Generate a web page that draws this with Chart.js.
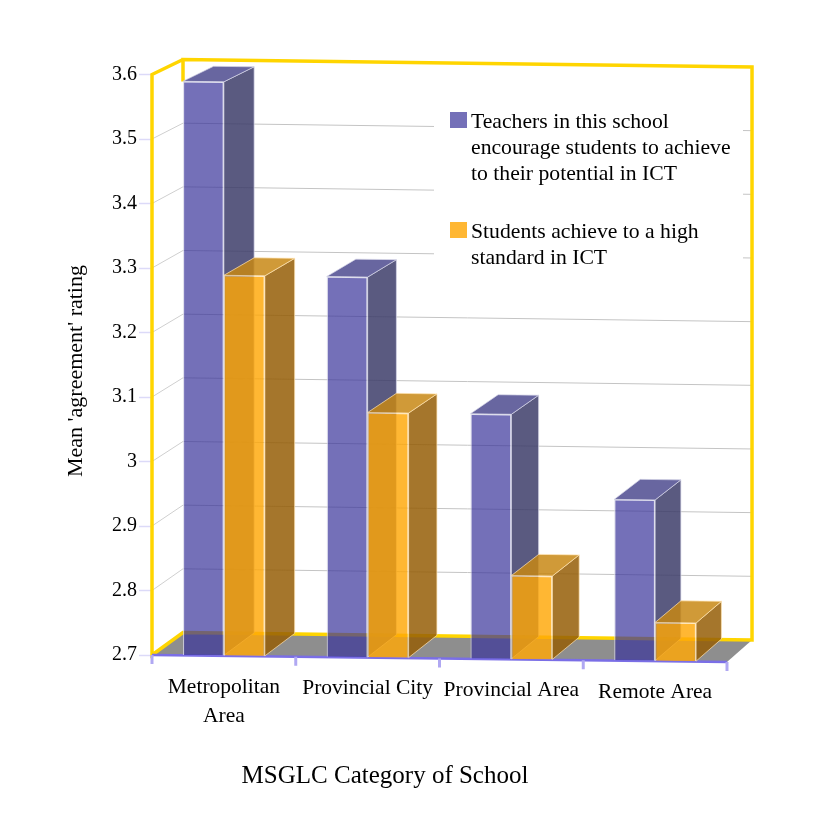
<!DOCTYPE html>
<html>
<head>
<meta charset="utf-8">
<title>Mean agreement rating by MSGLC category</title>
<script src="https://cdn.jsdelivr.net/npm/chart.js@4"></script>
<style>
html, body { margin: 0; padding: 0; background: #fff; }
canvas { display: block; }
</style>
</head>
<body>
<canvas id="rating-chart" width="830" height="821"></canvas>
<script>
// Chart data
const categories = [['Metropolitan', 'Area'], ['Provincial City'], ['Provincial Area'], ['Remote Area']];
const teacherRatings = [3.59, 3.29, 3.08, 2.95];
const studentRatings = [3.29, 3.08, 2.83, 2.76];
const ratingTicks = [2.7, 2.8, 2.9, 3, 3.1, 3.2, 3.3, 3.4, 3.5, 3.6];
const teacherLegend = ['Teachers in this school', 'encourage students to achieve', 'to their potential in ICT'];
const studentLegend = ['Students achieve to a high', 'standard in ICT'];

const SERIF = '"Liberation Serif", serif';
const TILT = 0.0122;
const YELLOW = '#ffd500';
const LILAC = '#b0a8f2';

// Everything on the front plane slopes down slightly towards the right
function tiltY(x, y, chart) {
    return y + TILT * (x - chart.chartArea.left);
}

// Where a point on the front plane lands on the back plane
function toBack(x, y) {
    return {
        x: x + 31 - (x - 152) * 0.0104,
        y: y - (15 + (y - 75) * 0.013 - (x - 152) * 0.001)
    };
}

function poly(ctx, points, fill, stroke, width) {
    ctx.beginPath();
    points.forEach((p, i) => i ? ctx.lineTo(p.x, p.y) : ctx.moveTo(p.x, p.y));
    ctx.closePath();
    if (fill) {
        ctx.fillStyle = fill;
        ctx.fill();
    }
    if (stroke) {
        ctx.strokeStyle = stroke;
        ctx.lineWidth = width || 1;
        ctx.stroke();
    }
}

function line(ctx, a, b, color, width) {
    ctx.beginPath();
    ctx.moveTo(a.x, a.y);
    ctx.lineTo(b.x, b.y);
    ctx.strokeStyle = color;
    ctx.lineWidth = width;
    ctx.stroke();
}

function drawLegendEntry(ctx, lines, color, top) {
    ctx.fillStyle = color;
    ctx.fillRect(450, top, 17, 16);
    ctx.fillStyle = '#000';
    lines.forEach((text, i) => ctx.fillText(text, 471, top + 10 + i * 26));
}

// Floor, walls, grid, legend and titles sit behind the bars
function drawScene(chart) {
    const ctx = chart.ctx;
    const { left, right } = chart.chartArea;
    const y = chart.scales.y;
    const top = { x: left, y: y.getPixelForValue(3.6) };
    const bottom = { x: left, y: y.getPixelForValue(2.7) };
    const frontRight = { x: right, y: tiltY(right, bottom.y, chart) };
    const topRight = { x: right, y: tiltY(right, top.y, chart) };

    ctx.save();
    poly(ctx, [bottom, frontRight, toBack(frontRight.x, frontRight.y), toBack(bottom.x, bottom.y)], '#8e8e8e');

    ratingTicks.slice(1, -1).forEach(v => {
        const py = y.getPixelForValue(v);
        const a = { x: left, y: py };
        const b = toBack(left, py);
        const c = toBack(right, tiltY(right, py, chart));
        line(ctx, a, b, '#cfcfcf', 1);
        line(ctx, b, c, '#c4c4c4', 1);
    });

    // Legend panel hides the grid behind it
    ctx.fillStyle = '#fff';
    ctx.fillRect(434, 100, 309, 170);
    ctx.font = '21.7px ' + SERIF;
    ctx.textBaseline = 'middle';
    ctx.textAlign = 'left';
    drawLegendEntry(ctx, teacherLegend, '#7470b8', 112);
    drawLegendEntry(ctx, studentLegend, '#ffb733', 222);

    // Yellow frame; the back left edge only shows above the first bar
    const backTop = toBack(left, top.y);
    const backTopRight = toBack(topRight.x, topRight.y);
    const backBottomRight = toBack(frontRight.x, frontRight.y);
    const backBottom = toBack(left, bottom.y);
    ctx.lineJoin = 'miter';
    ctx.beginPath();
    ctx.moveTo(backTop.x, backTop.y + 22);
    ctx.lineTo(backTop.x, backTop.y);
    ctx.lineTo(backTopRight.x, backTopRight.y);
    ctx.lineTo(backBottomRight.x, backBottomRight.y);
    ctx.lineTo(backBottom.x, backBottom.y);
    ctx.lineTo(bottom.x, bottom.y);
    ctx.lineTo(top.x, top.y);
    ctx.lineTo(backTop.x, backTop.y);
    ctx.strokeStyle = YELLOW;
    ctx.lineWidth = 3.5;
    ctx.stroke();

    // Category axis along the front edge of the floor
    line(ctx, bottom, frontRight, '#7a6ee6', 2.5);
    const x = chart.scales.x;
    const step = (right - left) / categories.length;
    for (let i = 0; i <= categories.length; i++) {
        const px = left + i * step;
        const py = tiltY(px, bottom.y, chart);
        line(ctx, { x: px, y: py }, { x: px, y: py + 9 }, LILAC, 3);
    }

    // Category labels follow the slope of the axis
    ctx.fillStyle = '#000';
    ctx.textAlign = 'center';
    ctx.font = '21.5px ' + SERIF;
    categories.forEach((label, i) => {
        const px = x.getPixelForValue(i);
        label.forEach((text, n) => ctx.fillText(text, px, tiltY(px, bottom.y, chart) + 31 + n * 29));
    });

    // Axis titles
    ctx.font = '25px ' + SERIF;
    ctx.fillText('MSGLC Category of School', 385, 776);
    ctx.translate(76, 371);
    ctx.rotate(-Math.PI / 2);
    ctx.font = '22px ' + SERIF;
    ctx.fillText("Mean 'agreement' rating", 0, 0);
    ctx.restore();
}

// Side and top faces of one series, taken from the bar elements
function drawDepthFaces(chart, meta, ds) {
    const ctx = chart.ctx;
    meta.data.forEach(bar => {
        const l = bar.x - bar.width / 2;
        const r = bar.x + bar.width / 2;
        const tl = { x: l, y: tiltY(l, bar.y, chart) };
        const tr = { x: r, y: tiltY(r, bar.y, chart) };
        const br = { x: r, y: tiltY(r, bar.base, chart) };
        poly(ctx, [tr, br, toBack(br.x, br.y), toBack(tr.x, tr.y)], ds.sideColor, ds.edgeColor, 1);
        poly(ctx, [tl, tr, toBack(tr.x, tr.y), toBack(tl.x, tl.y)], ds.topColor, ds.edgeColor, 1);
    });
}

const box3d = {
    id: 'box3d',
    // Series are painted left to right here so the orange bars overlap the blue side faces
    beforeDatasetsDraw(chart) {
        const ctx = chart.ctx;
        drawScene(chart);
        chart.getSortedVisibleDatasetMetas().forEach(meta => {
            drawDepthFaces(chart, meta, chart.data.datasets[meta.index]);
            ctx.save();
            ctx.transform(1, TILT, 0, 1, 0, -TILT * chart.chartArea.left);
            meta.controller.draw();
            ctx.restore();
        });
        return false;
    }
};

const ctx = document.getElementById('rating-chart').getContext('2d');
const ratingChart = new Chart(ctx, {
    type: 'bar',
    plugins: [box3d],
    data: {
        labels: categories,
        datasets: [{
            label: teacherLegend.join(' '),
            data: teacherRatings,
            base: 2.7,
            backgroundColor: 'rgba(59,53,155,0.71)',
            borderColor: 'rgba(215,215,232,0.75)',
            edgeColor: 'rgba(215,215,232,0.7)',
            sideColor: 'rgba(61,61,106,0.85)',
            topColor: 'rgba(78,75,143,0.85)',
            borderWidth: 1.2
        }, {
            label: studentLegend.join(' '),
            data: studentRatings,
            base: 2.7,
            backgroundColor: 'rgba(255,167,6,0.82)',
            borderColor: 'rgba(255,228,180,0.8)',
            edgeColor: 'rgba(255,228,180,0.7)',
            sideColor: 'rgba(149,94,7,0.85)',
            topColor: 'rgba(200,136,21,0.85)',
            borderWidth: 1.2
        }]
    },
    options: {
        responsive: false,
        animation: false,
        events: [],
        layout: { padding: { top: 74.5, right: 103, left: 0, bottom: 0 } },
        plugins: { legend: { display: false }, title: { display: false }, tooltip: { enabled: false } },
        datasets: { bar: { categoryPercentage: 0.57, barPercentage: 1 } },
        scales: {
            x: {
                ticks: { display: false },
                grid: { display: false },
                border: { display: false },
                afterFit: scale => { scale.height = 166; }
            },
            y: {
                min: 2.7,
                max: 3.6,
                afterBuildTicks: scale => { scale.ticks = ratingTicks.map(value => ({ value })); },
                ticks: {
                    color: '#000',
                    padding: 2,
                    font: { family: SERIF, size: 20 },
                    callback: value => String(Number(value.toFixed(1)))
                },
                grid: { drawOnChartArea: false, color: '#dcdaf8', tickLength: 13, tickWidth: 1.5 },
                border: { display: false },
                afterFit: scale => { scale.width = 152; }
            }
        }
    }
});
</script>
</body>
</html>
